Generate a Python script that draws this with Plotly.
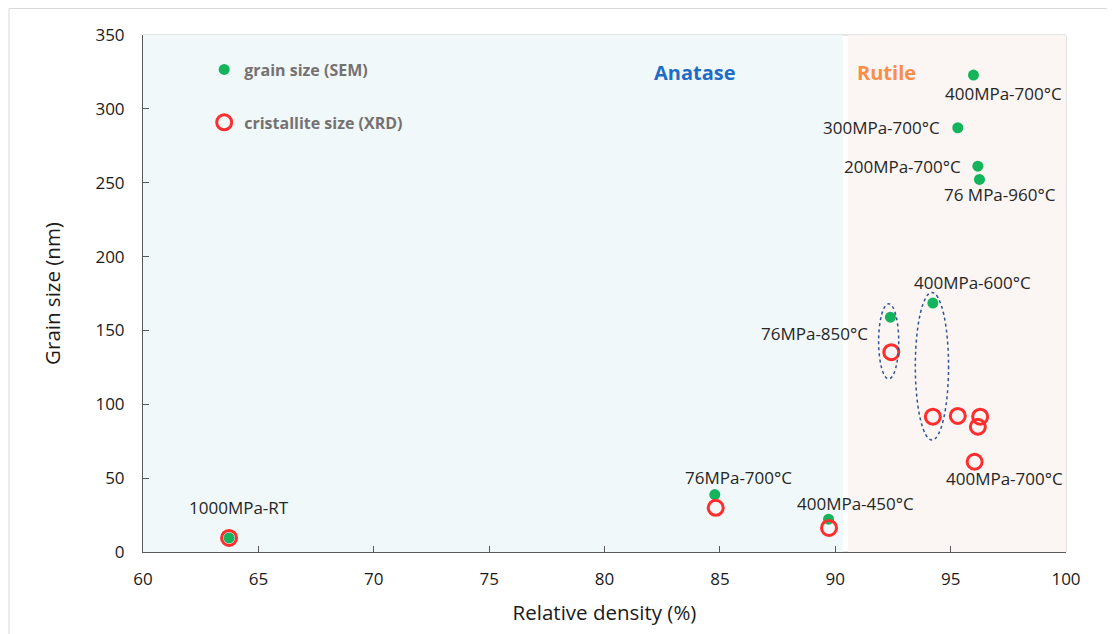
import plotly.graph_objects as go

# ---------------- data ----------------
sem_density = [63.73, 84.78, 89.71, 92.39, 94.23, 95.99, 95.31, 96.18, 96.25]
sem_size = [9.5, 38.9, 22.2, 159.0, 168.5, 322.9, 287.2, 261.2, 252.2]

xrd_density = [63.73, 84.82, 89.73, 92.43, 94.23, 95.31, 96.28, 96.18, 96.04]
xrd_size = [9.5, 29.9, 16.3, 135.3, 91.6, 92.1, 91.6, 84.8, 61.1]

x_ticks = [60, 65, 70, 75, 80, 85, 90, 95, 100]
y_ticks = [0, 50, 100, 150, 200, 250, 300, 350]

# point labels (text, x, y) placed near points
point_labels = [
    ("1000MPa-RT", 64.16, 30.3),
    ("76MPa-700°C", 85.81, 50.7),
    ("400MPa-450°C", 90.88, 33.0),
    ("400MPa-700°C", 97.34, 50.0),
    ("400MPa-700°C", 97.29, 310.5),
    ("300MPa-700°C", 92.01, 287.4),
    ("200MPa-700°C", 92.92, 261.0),
    ("76 MPa-960°C", 97.12, 242.0),
    ("400MPa-600°C", 95.95, 182.3),
    ("76MPa-850°C", 89.11, 147.7),
]

FONT = "Open Sans"

fig = go.Figure()

fig.add_trace(go.Scatter(
    x=sem_density, y=sem_size, mode="markers", name="grain size (SEM)",
    legendgroup="a",
    marker=dict(symbol="circle", size=11, color="#14b45c", line=dict(width=0)),
))
fig.add_trace(go.Scatter(
    x=xrd_density, y=xrd_size, mode="markers", name="cristallite size (XRD)",
    legendgroup="b",
    marker=dict(symbol="circle-open", size=15, color="#ff2d2d", line=dict(width=3, color="#ff2d2d")),
))

shapes = [
    # phase regions
    dict(type="rect", xref="x", yref="y", x0=60, x1=90.33, y0=0, y1=350,
         fillcolor="#f0f8f9", line=dict(width=0), layer="below"),
    dict(type="rect", xref="x", yref="y", x0=90.55, x1=100, y0=0, y1=350,
         fillcolor="#fbf5f3", line=dict(width=0), layer="below"),
    # plot border (light)
    dict(type="rect", xref="paper", yref="paper", x0=0, x1=1, y0=0, y1=1,
         line=dict(width=1, color="#c8c8c8"), layer="below"),
    # dotted ellipses
    dict(type="circle", xref="x", yref="y", x0=91.88, x1=92.75, y0=117.2, y1=168.0,
         line=dict(color="#2f5597", width=1.5, dash="dot")),
    dict(type="circle", xref="x", yref="y", x0=93.47, x1=94.91, y0=75.8, y1=175.7,
         line=dict(color="#2f5597", width=1.5, dash="dot")),
    # outer image frame
    dict(type="line", xref="paper", yref="paper", x0=-0.1452, x1=1.06, y0=1.0513, y1=1.0513,
         line=dict(color="#d9d9d9", width=1)),
    dict(type="line", xref="paper", yref="paper", x0=-0.1452, x1=-0.1452, y0=1.0513, y1=-0.17,
         line=dict(color="#d9d9d9", width=1)),
]

annotations = []
for txt, ax_, ay_ in point_labels:
    annotations.append(dict(x=ax_, y=ay_, xref="x", yref="y", text=txt, showarrow=False,
                            font=dict(family=FONT, size=17, color="#262626"),
                            xanchor="center", yanchor="middle"))
annotations.append(dict(x=83.91, y=324.8, xref="x", yref="y", text="<b>Anatase</b>", showarrow=False,
                        font=dict(family=FONT, size=20, color="#1f6cc6"), xanchor="center", yanchor="middle"))
annotations.append(dict(x=92.22, y=324.8, xref="x", yref="y", text="<b>Rutile</b>", showarrow=False,
                        font=dict(family=FONT, size=20, color="#f98d4a"), xanchor="center", yanchor="middle"))

fig.update_layout(
    width=1107, height=626,
    margin=dict(l=135, r=49, t=27, b=82),
    paper_bgcolor="white", plot_bgcolor="white",
    shapes=shapes, annotations=annotations,
    font=dict(family=FONT, color="#1a1a1a"),
    showlegend=True,
    legend=dict(x=0.0663, y=0.966, xanchor="left", yanchor="top",
                bgcolor="rgba(0,0,0,0)", traceorder="grouped", tracegroupgap=29,
                font=dict(family=FONT, size=16, color="#767171", weight="bold"),
                itemsizing="trace"),
    xaxis=dict(range=[60, 100], tickvals=x_ticks, ticks="inside", ticklen=6, tickcolor="#595959",
               showline=True, linecolor="#595959", linewidth=1, showgrid=False, zeroline=False,
               tickfont=dict(family=FONT, size=17, color="#1a1a1a"), ticklabelstandoff=12,
               title=dict(text="Relative density (%)", font=dict(family=FONT, size=20.5, color="#1a1a1a"),
                          standoff=16)),
    yaxis=dict(range=[0, 350], tickvals=y_ticks, ticks="inside", ticklen=6, tickcolor="#595959",
               showline=True, linecolor="#595959", linewidth=1, showgrid=False, zeroline=False,
               tickfont=dict(family=FONT, size=17, color="#1a1a1a"), ticklabelstandoff=14,
               title=dict(text="Grain size (nm)", font=dict(family=FONT, size=20.5, color="#1a1a1a"),
                          standoff=29)),
)

fig.write_html("out.html")
